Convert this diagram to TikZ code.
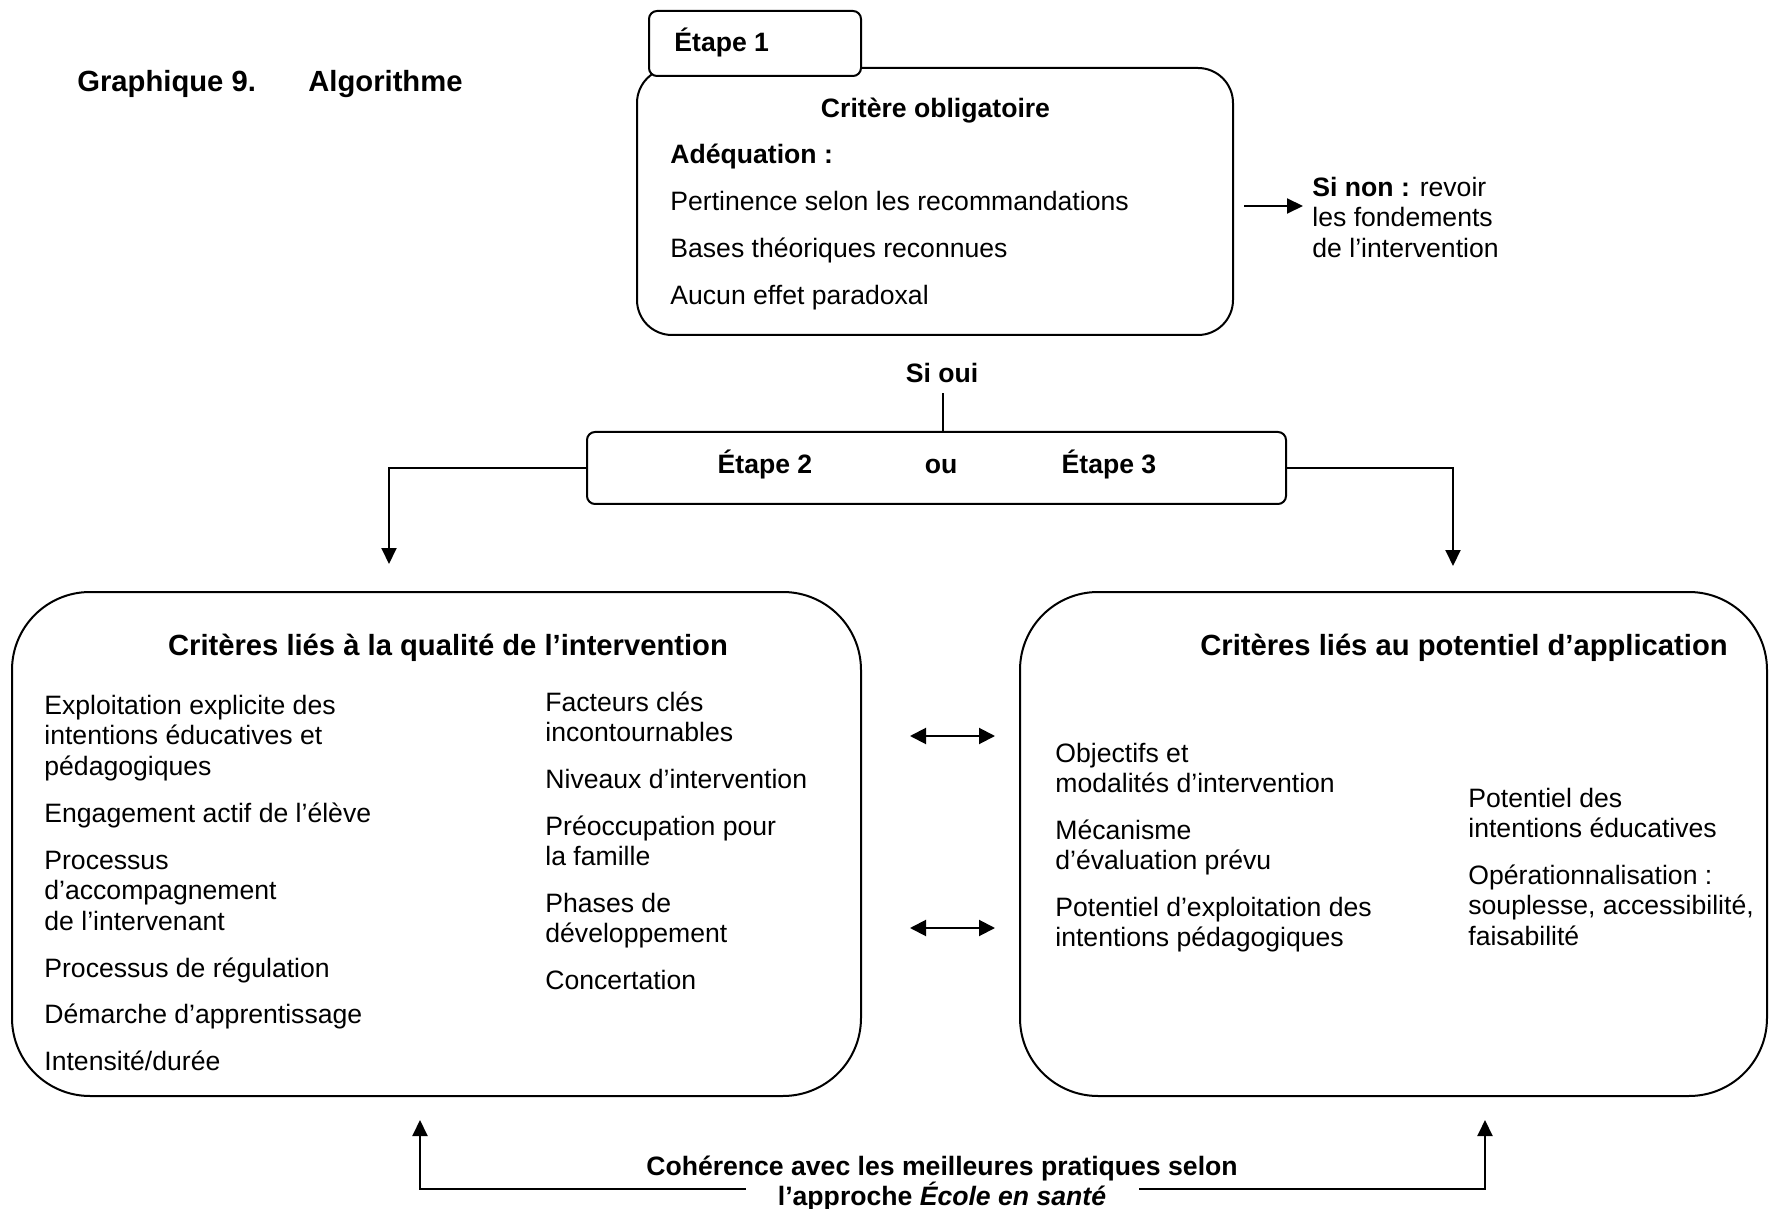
\documentclass[tikz,border=0pt]{standalone}
\usepackage{fontspec}
\setmainfont{Liberation Sans}
\usetikzlibrary{arrows.meta}
\newcommand\mylines[1]{\vtop{\halign{##\hfil\cr#1\crcr}}}
\newcommand\mylinesc[1]{\vtop{\halign{\hfil##\hfil\cr#1\crcr}}}
\tikzset{
  body/.style={inner sep=0pt, yshift=-1.2pt, font=\fontsize{13.3}{15.25}\selectfont},
  lt/.style={body, anchor=base west},
  ct/.style={body, anchor=base},
  bt/.style={body, anchor=base, font=\fontsize{13.3}{15.25}\selectfont\bfseries},
  ttl/.style={inner sep=0pt, yshift=-1.2pt, anchor=base, font=\fontsize{14.6}{17}\selectfont\bfseries},
  frame/.style={draw, line width=1pt, fill=white},
  arr/.style={-{Triangle[length=8pt,width=7.5pt]}, line width=1pt},
  darr/.style={{Triangle[length=8pt,width=8pt]}-{Triangle[length=8pt,width=8pt]}, line width=1pt},
  ln/.style={line width=1pt},
}
\begin{document}
\begin{tikzpicture}[x=0.5pt,y=-0.5pt]
\useasboundingbox (0,0) rectangle (1769,1209);

% title
\node[lt, font=\fontsize{14.6}{17}\selectfont\bfseries] (g9) at (77,89) {Graphique 9.};
\node[lt, font=\fontsize{14.6}{17}\selectfont\bfseries] (alg) at (308,89) {Algorithme};

% step 1 box
\node[frame, rounded corners=17.5pt, minimum width=298pt, minimum height=133.5pt] (b1) at (935,201.5) {};
\node[frame, rounded corners=4pt, minimum width=106pt, minimum height=32.5pt] (tab) at (755,43.5) {};
\node[lt, font=\fontsize{13.3}{15.25}\selectfont\bfseries] (e1) at (674,49) {Étape 1};
\node[bt] (crit) at (935.5,115) {Critère obligatoire};
\node[lt, font=\fontsize{13.3}{15.25}\selectfont\bfseries] (adq) at (670,161) {Adéquation :};
\node[lt] (pert) at (670,208) {Pertinence selon les recommandations};
\node[lt] (bases) at (670,255) {Bases théoriques reconnues};
\node[lt] (aucun) at (670,302) {Aucun effet paradoxal};

% si non
\node[lt] (sinon) at (1312,194) {\mylines{\textbf{Si non :} revoir\cr les fondements\cr de l’intervention}};
\coordinate (sn1) at (1244,206);
\coordinate (sn2) at (1303,206);
\draw[arr] (sn1) -- (sn2);

% si oui
\node[bt] (sioui) at (942,380) {Si oui};
\node[frame, rounded corners=4pt, minimum width=349.5pt, minimum height=36pt] (e23) at (936.5,468) {};
\draw[ln] ([xshift=3.25pt]e23.north) -- ++(0,-38);
\node[bt] (e2) at (765,471) {Étape 2};
\node[bt] (ou) at (941,471) {ou};
\node[bt] (e3) at (1109,471) {Étape 3};

\coordinate (qa) at (389,564);
\coordinate (pa) at (1453,566);
\draw[arr] (e23.west) -| (qa);
\draw[arr] (e23.east) -| (pa);

% left big box
\node[frame, rounded corners=39pt, minimum width=424.5pt, minimum height=252pt] (qb) at (436.5,844) {};
\node[ttl] (qt) at (448,653) {Critères liés à la qualité de l’intervention};
\node[lt] (q1) at (44,712) {\mylines{Exploitation explicite des\cr intentions éducatives et\cr pédagogiques}};
\node[lt] (q2) at (44,820) {Engagement actif de l’élève};
\node[lt] (q3) at (44,867) {\mylines{Processus\cr d’accompagnement\cr de l’intervenant}};
\node[lt] (q4) at (44,975) {Processus de régulation};
\node[lt] (q5) at (44,1021) {Démarche d’apprentissage};
\node[lt] (q6) at (44,1068) {Intensité/durée};
\node[lt] (r1) at (545,709) {\mylines{Facteurs clés\cr incontournables}};
\node[lt] (r2) at (545,786) {Niveaux d’intervention};
\node[lt] (r3) at (545,833) {\mylines{Préoccupation pour\cr la famille}};
\node[lt] (r4) at (545,910) {\mylines{Phases de\cr développement}};
\node[lt] (r5) at (545,987) {Concertation};

% right big box
\node[frame, rounded corners=39pt, minimum width=373.5pt, minimum height=252pt] (pb) at (1393.5,844) {};
\node[ttl] (pt) at (1464,653) {Critères liés au potentiel d’application};
\node[lt] (p1) at (1055,760) {\mylines{Objectifs et\cr modalités d’intervention}};
\node[lt] (p2) at (1055,837) {\mylines{Mécanisme\cr d’évaluation prévu}};
\node[lt] (p3) at (1055,914) {\mylines{Potentiel d’exploitation des\cr intentions pédagogiques}};
\node[lt] (s1) at (1468,805) {\mylines{Potentiel des\cr intentions éducatives}};
\node[lt] (s2) at (1468,882) {\mylines{Opérationnalisation :\cr souplesse, accessibilité,\cr faisabilité}};

% double arrows
\coordinate (d1a) at (910,736);
\coordinate (d1b) at (995,736);
\coordinate (d2a) at (910,928);
\coordinate (d2b) at (995,928);
\draw[darr] (d1a) -- (d1b);
\draw[darr] (d2a) -- (d2b);

% bottom
\node[ct, font=\fontsize{13.3}{15.25}\selectfont\bfseries] (coh) at (942,1173) {\mylinesc{Cohérence avec les meilleures pratiques selon\cr l’approche \textit{École en santé}}};
\coordinate (bl0) at (746,1189);
\coordinate (bl1) at (420,1120);
\coordinate (br0) at (1139,1189);
\coordinate (br1) at (1485,1120);
\draw[arr] (bl0) -| (bl1);
\draw[arr] (br0) -| (br1);
\end{tikzpicture}
\end{document}
